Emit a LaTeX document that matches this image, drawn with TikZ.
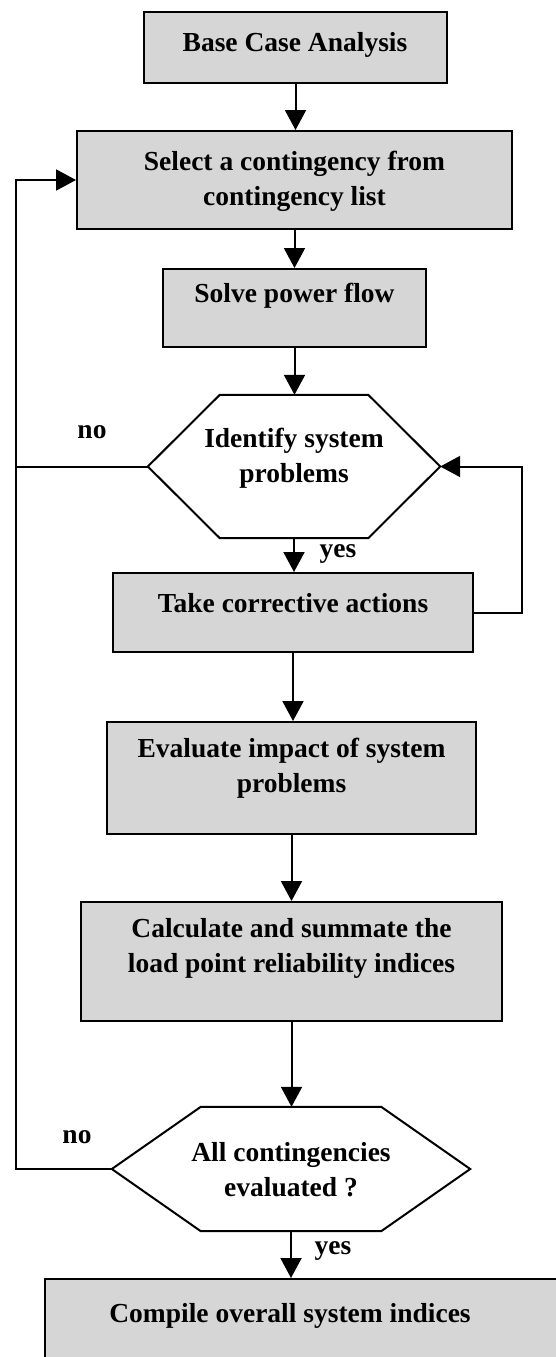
\documentclass[tikz,border=0pt]{standalone}
\usepackage{fontspec}
\setmainfont{Liberation Serif}
\usetikzlibrary{arrows.meta}
\begin{document}
\begin{tikzpicture}[x=1pt,y=-1pt,
  box/.style={draw, line width=2pt, fill=gray!32, inner sep=0pt},
  hexbase/.style={inner sep=0pt},
  hexline/.style={draw, line width=2pt, fill=white},
  txt/.style={font=\fontsize{27.5}{35}\selectfont\bfseries, align=center, inner sep=0pt},
  lab/.style={font=\fontsize{27.5}{35}\selectfont\bfseries, inner sep=0pt},
  conn/.style={line width=2pt},
  arr/.style={conn, -{Triangle[width=21pt,length=20pt]}},
]
\clip (0,0) rectangle (556,1357);
\fill[white] (0,0) rectangle (556,1357);

% boxes
\node[box, minimum width=303pt, minimum height=71pt] (b1) at (295.5,47.5) {};
\node[txt] (t1) at (295,45) {Base Case Analysis};

\node[box, minimum width=435pt, minimum height=98pt] (b2) at (294.5,180) {};
\node[txt] (t2) at (294.5,181) {Select a contingency from\\contingency list};

\node[box, minimum width=263pt, minimum height=78pt] (b3) at (294.5,308) {};
\node[txt] (t3) at (294.5,296) {Solve power flow};

% hexagon 1
\node[hexbase, minimum width=292pt, minimum height=143pt] (h1) at (294,466.5) {};
\draw[hexline] (h1.west) -- ([xshift=72pt]h1.north west) -- ([xshift=-72pt]h1.north east)
  -- (h1.east) -- ([xshift=-72pt]h1.south east) -- ([xshift=72pt]h1.south west) -- cycle;
\node[txt] (th1) at (294,458) {Identify system\\problems};

\node[box, minimum width=360pt, minimum height=79pt] (b4) at (293,612.5) {};
\node[txt] (t4) at (293,603) {Take corrective actions};

\node[box, minimum width=369pt, minimum height=112pt] (b5) at (291.5,778) {};
\node[txt] (t5) at (291.5,768) {Evaluate impact of system\\problems};

\node[box, minimum width=421pt, minimum height=119pt] (b6) at (291.5,961.5) {};
\node[txt] (t6) at (291.5,948) {Calculate and summate the\\load point reliability indices};

% hexagon 2
\node[hexbase, minimum width=358pt, minimum height=124pt] (h2) at (291,1169) {};
\draw[hexline] (h2.west) -- ([xshift=89pt]h2.north west) -- ([xshift=-89pt]h2.north east)
  -- (h2.east) -- ([xshift=-89pt]h2.south east) -- ([xshift=89pt]h2.south west) -- cycle;
\node[txt] (th2) at (291,1170) {All contingencies\\evaluated ?};

\node[box, minimum width=555pt, minimum height=121pt] (b7) at (322.5,1339.5) {};
\node[txt] (t7) at (290,1316) {Compile overall system indices};

% labels
\node[lab] (no1) at (92,432) {no};
\node[lab] (yes1) at (338,554) {yes};
\node[lab] (no2) at (77,1137) {no};
\node[lab] (yes2) at (333,1251) {yes};

% main arrows
\draw[arr] (b1.south) -- (b1.south |- b2.north);
\draw[arr] (b2.south) -- (b2.south |- b3.north);
\draw[arr] (b3.south) -- (b3.south |- h1.north);
\draw[arr] (h1.south) -- (h1.south |- b4.north);
\draw[arr] (b4.south) -- (b4.south |- b5.north);
\draw[arr] (b5.south) -- (b5.south |- b6.north);
\draw[arr] (b6.south) -- (b6.south |- h2.north);
\draw[arr] (h2.south) -- (h2.south |- b7.north);

% right loop
\coordinate (R) at (522,612.5);
\draw[arr] (b4.east) -- (R) |- (h1.east);

% left loop
\coordinate (L) at (16,180);
\draw[arr] (h2.west) -| (L) -- (b2.west);
\draw[conn] (h1.west) -- (h1.west -| L);
\end{tikzpicture}
\end{document}
